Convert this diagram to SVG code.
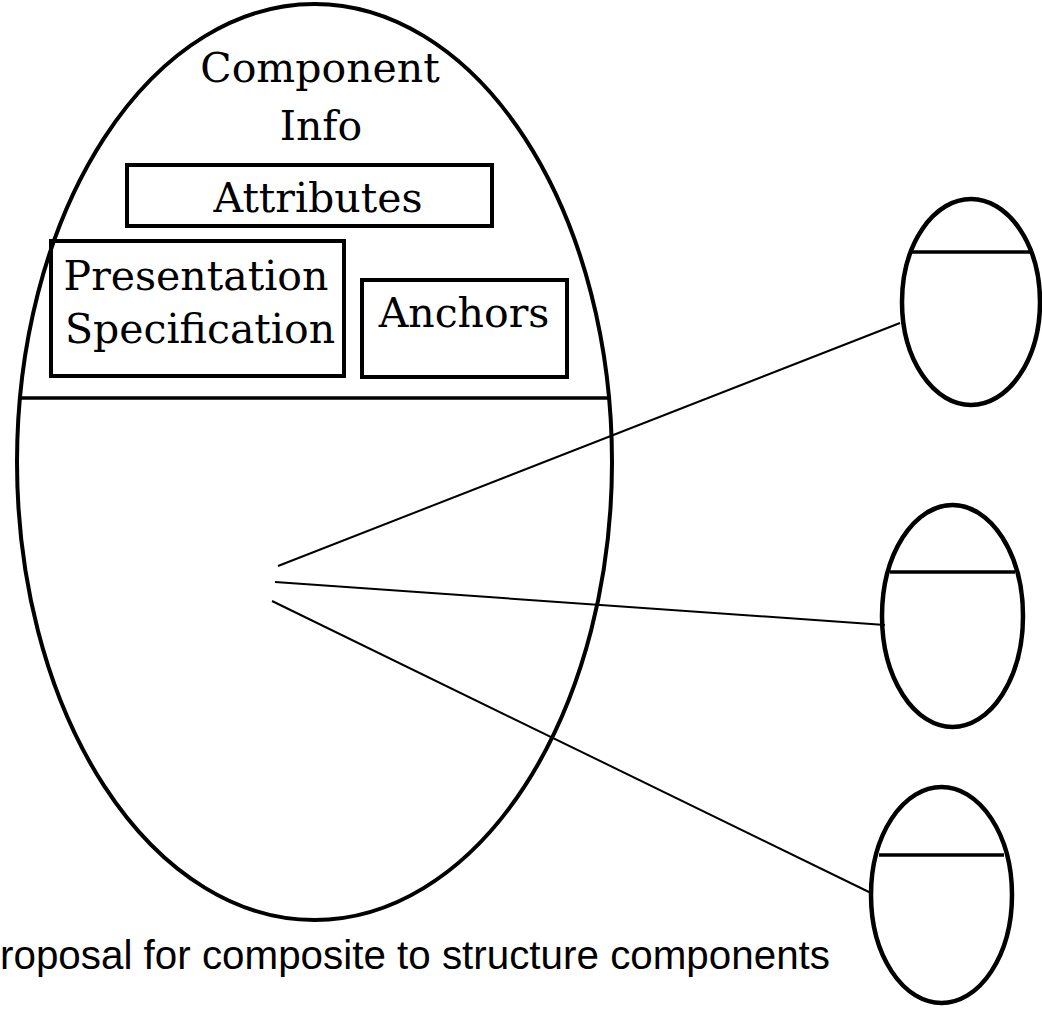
<svg xmlns="http://www.w3.org/2000/svg" width="1042" height="1010" viewBox="0 0 1042 1010">
  <style>
    .shape { fill: none; stroke: #000; }
    .big { stroke-width: 4; }
    .box { stroke-width: 4; }
    .small { stroke-width: 4.5; }
    .sep { stroke: #000; stroke-width: 3.5; }
    .link { stroke: #000; stroke-width: 2; fill: none; }
    .label { font-family: "DejaVu Serif", "Liberation Serif", serif; font-size: 41px; fill: #000; text-anchor: middle; }
    .caption { font-family: "Liberation Sans", Arial, sans-serif; font-size: 40px; fill: #000; }
  </style>
  <rect width="1042" height="1010" fill="#fff"/>

  <!-- composite component -->
  <g id="component">
    <ellipse class="shape big" cx="314.5" cy="462" rx="297.5" ry="458"/>
    <line class="sep" x1="20" y1="398" x2="609" y2="398"/>
    <text class="label" x="320" y="82">Component</text>
    <text class="label" x="321" y="140">Info</text>
  </g>

  <g id="attributes">
    <rect class="shape box" x="127" y="165" width="365" height="61"/>
    <text class="label" x="318" y="212">Attributes</text>
  </g>

  <g id="presentation">
    <rect class="shape box" x="51" y="241" width="293" height="135"/>
    <text class="label" x="196" y="290">Presentation</text>
    <text class="label" x="200" y="343">Specification</text>
  </g>

  <g id="anchors">
    <rect class="shape box" x="362" y="280" width="205" height="97"/>
    <text class="label" x="464" y="327">Anchors</text>
  </g>

  <!-- child components -->
  <g id="child1">
    <ellipse class="shape small" cx="971" cy="302" rx="69" ry="103"/>
    <line class="sep" x1="911" y1="252" x2="1031" y2="252"/>
  </g>

  <g id="child2">
    <ellipse class="shape small" cx="952.5" cy="616" rx="70.5" ry="111"/>
    <line class="sep" x1="890" y1="572" x2="1015" y2="572"/>
  </g>

  <g id="child3">
    <ellipse class="shape small" cx="941.5" cy="895" rx="70.5" ry="108"/>
    <line class="sep" x1="879" y1="855" x2="1004" y2="855"/>
  </g>

  <!-- connectors from composite to children -->
  <g id="connectors">
    <line class="link" x1="278" y1="566" x2="900" y2="323"/>
    <line class="link" x1="275" y1="582" x2="885" y2="625"/>
    <line class="link" x1="272" y1="601" x2="871" y2="893"/>
  </g>

  <text class="caption" x="0" y="969" textLength="830" lengthAdjust="spacingAndGlyphs">roposal for composite to structure components</text>
</svg>
